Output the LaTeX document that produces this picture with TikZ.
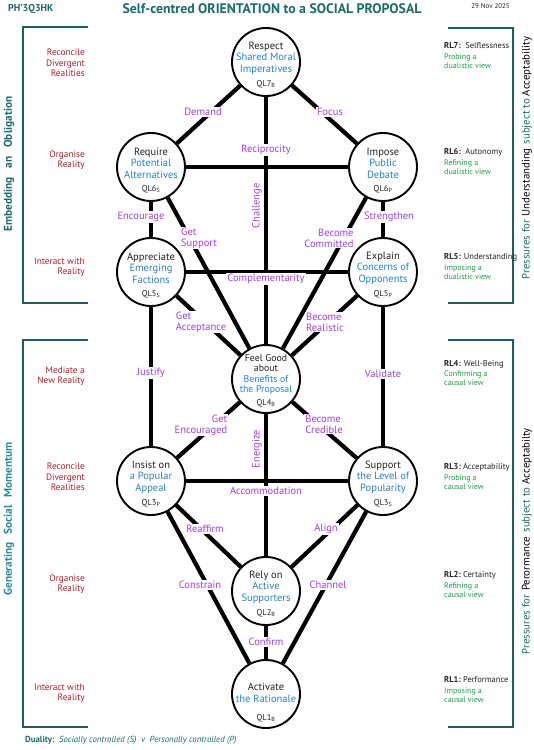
\documentclass[tikz,border=0pt]{standalone}
\usepackage{fontspec}
\setmainfont{PT Sans}
\usetikzlibrary{calc}
\definecolor{tealT}{HTML}{1B6A6C}
\definecolor{tealB}{HTML}{1F5F5B}
\definecolor{tealL}{HTML}{2B8A9A}
\definecolor{qblue}{HTML}{2C80C4}
\definecolor{qpurp}{HTML}{A040DC}
\definecolor{qred}{HTML}{A3202E}
\definecolor{qgreen}{HTML}{1F9A48}
\definecolor{qtext}{HTML}{222222}
\newcommand\bl[1]{\textcolor{qblue}{#1}}
\newcommand\qnode[7]{%
  \node[qc] (#1) at (#2) {};
  \node[qt] (#1t) at ($(#1)+(0,#6)$) {#3\\#4};
  \node[qlab] (#1q) at ($(#1)+(0,#7)$) {#5};
}
\begin{document}
\begin{tikzpicture}[x=1pt,y=-1pt,
 qc/.style={circle,draw,line width=1.9pt,fill=white,minimum size=68pt,inner sep=0pt},
 qt/.style={align=center,inner sep=0pt,text=qtext,font=\fontsize{10.5}{11.5}\selectfont},
 qlab/.style={inner sep=0pt,text=qtext,font=\fontsize{8.5}{9}\selectfont},
 edge/.style={line width=4.2pt},
 lab/.style={text=qpurp,fill=white,inner sep=1pt,font=\fontsize{10.5}{11}\selectfont},
 lvl/.style={text=qred,anchor=east,align=right,inner sep=0pt,font=\fontsize{9.3}{10.6}\selectfont},
 rl/.style={anchor=west,inner sep=0pt,text=qtext,font=\fontsize{8.5}{9}\selectfont},
 rls/.style={anchor=west,align=left,inner sep=0pt,text=qgreen,font=\fontsize{8}{8.8}\selectfont},
 brk/.style={draw=tealB,line width=2pt},
 vtxt/.style={rotate=90,inner sep=0pt,font=\fontsize{10.8}{12}\selectfont},
]
\useasboundingbox (0,0) rectangle (534,750);

% header
\node[inner sep=0pt,anchor=west,text=tealT,font=\bfseries\fontsize{10}{12}\selectfont] (code) at (8,9) {PH'3Q3HK};
\node[inner sep=0pt,text=tealT,font=\bfseries\fontsize{13.8}{15}\selectfont] (title) at (272,9) {Self-centred ORIENTATION to a SOCIAL PROPOSAL};
\node[inner sep=0pt,anchor=east,text=qtext,font=\fontsize{7}{8}\selectfont] (date) at (510,6) {29 Nov 2025};

% brackets
\draw[brk] (88,27) -- (23,27) -- (23,303) -- (88,303);
\draw[brk] (88,340) -- (23,340) -- (23,727) -- (88,727);
\draw[brk] (448,28) -- (513,28) -- (513,303) -- (448,303);
\draw[brk] (448,340) -- (513,340) -- (513,727) -- (448,727);

\node[vtxt,text=tealT,font=\bfseries\fontsize{11.3}{12}\selectfont] (embed) at (9,164) {Embedding\hspace{6pt} an\hspace{6pt} Obligation};
\node[vtxt,text=tealL,font=\bfseries\fontsize{11.3}{12}\selectfont] (gener) at (9,519) {Generating\hspace{5pt} Social\hspace{5pt} Momentum};
\node[vtxt] (press1) at (527,158) {\color{tealT}Pressures for\hspace{4pt}\color{black}Understanding\hspace{4pt}\color{tealT}subject to\hspace{3pt}\color{black}Acceptability};
\node[vtxt] (press2) at (527,541) {\color{tealT}Pressures for\hspace{4pt}\color{black}Perormance\hspace{4pt}\color{tealT}subject to\hspace{3pt}\color{black}Acceptabilty};

% left level labels
\node[lvl] (l7) at (85,63) {Reconcile\\Divergent\\Realities};
\node[lvl] (l6) at (85,160) {Organise\\Reality};
\node[lvl] (l5) at (85,267) {Interact with\\Reality};
\node[lvl] (l4) at (85,376) {Mediate a\\New Reality};
\node[lvl] (l3) at (85,477) {Reconcile\\Divergent\\Realities};
\node[lvl] (l2) at (85,584) {Organise\\Reality};
\node[lvl] (l1) at (85,693) {Interact with\\Reality};

% right level labels
\node[rl] (r7) at (444,46) {\textbf{RL7:}\ \ Selflessness};
\node[rls] (r7s) at (444,61) {Probing a\\dualistic view};
\node[rl] (r6) at (444,152) {\textbf{RL6:}\ \ Autonomy};
\node[rls] (r6s) at (444,167) {Refining a\\dualistic view};
\node[rl] (r5) at (444,257) {\textbf{RL5:} Understanding};
\node[rls] (r5s) at (444,272) {Imposing a\\dualistic view};
\node[rl] (r4) at (444,364) {\textbf{RL4:} Well-Being};
\node[rls] (r4s) at (444,378) {Confirming a\\causal view};
\node[rl] (r3) at (444,467) {\textbf{RL3:}\ Acceptability};
\node[rls] (r3s) at (444,482) {Probing a\\causal view};
\node[rl] (r2) at (444,575) {\textbf{RL2:}\ Certainty};
\node[rls] (r2s) at (444,590) {Refining a\\causal view};
\node[rl] (r1) at (444,680) {\textbf{RL1:}\ Performance};
\node[rls] (r1s) at (444,695) {Imposing a\\causal view};

% circles
\qnode{q7}{266,62}{Respect}{\bl{Shared Moral}\\\bl{Imperatives}}{QL7\textsubscript{B}}{-4}{22}
\qnode{q6s}{151,167}{Require}{\bl{Potential}\\\bl{Alternatives}}{QL6\textsubscript{S}}{-4}{22}
\qnode{q6p}{383,167}{Impose}{\bl{Public}\\\bl{Debate}}{QL6\textsubscript{P}}{-4}{22}
\qnode{q5s}{151,272}{Appreciate}{\bl{Emerging}\\\bl{Factions}}{QL5\textsubscript{S}}{-4}{22}
\qnode{q5p}{383,272}{Explain}{\bl{Concerns of}\\\bl{Opponents}}{QL5\textsubscript{P}}{-4}{22}
\node[qc] (q4) at (266,379) {};
\node[qt,font=\fontsize{9.8}{10.5}\selectfont] (q4t) at (266,374.5) {Feel Good\\about\\\bl{Benefits of}\\\bl{the Proposal}};
\node[qlab] (q4q) at (266,403) {QL4\textsubscript{B}};
\qnode{q3p}{151,481}{Insist on}{\bl{a Popular}\\\bl{Appeal}}{QL3\textsubscript{P}}{-4}{22}
\qnode{q3s}{383,481}{Support}{\bl{the Level of}\\\bl{Popularity}}{QL3\textsubscript{S}}{-4}{22}
\qnode{q2}{266,591}{Rely on}{\bl{Active}\\\bl{Supporters}}{QL2\textsubscript{B}}{-4}{22}
\qnode{q1}{266,694}{Activate}{\bl{the Rationale}}{QL1\textsubscript{B}}{-1}{24}

% edges
\draw[edge] (q7) -- (q6s);
\draw[edge] (q7) -- (q6p);
\draw[edge] (q7) -- (q4);
\draw[edge] (q6s) -- (q6p);
\draw[edge] (q6s) -- (q5s);
\draw[edge] (q6p) -- (q5p);
\draw[edge] (q6s) -- (q4);
\draw[edge] (q6p) -- (q4);
\draw[edge] (q5s) -- (q5p);
\draw[edge] (q5s) -- (q4);
\draw[edge] (q5p) -- (q4);
\draw[edge] (q5s) -- (q3p);
\draw[edge] (q5p) -- (q3s);
\draw[edge] (q4) -- (q3p);
\draw[edge] (q4) -- (q3s);
\draw[edge] (q4) -- (q2);
\draw[edge] (q3p) -- (q3s);
\draw[edge] (q3p) -- (q2);
\draw[edge] (q3s) -- (q2);
\draw[edge] (q3p) -- (q1);
\draw[edge] (q3s) -- (q1);
\draw[edge] (q2) -- (q1);

% edge labels
\node[lab] (eDemand) at (203,112) {Demand};
\node[lab] (eFocus) at (330,112) {Focus};
\node[lab] (eRecip) at (266,150) {Reciprocity};
\node[lab,fill=none,rotate=90] (eChall) at (257,206) {Challenge};
\node[lab] (eEnc) at (141,217) {Encourage};
\node[lab] (eStr) at (389,217) {Strengthen};
\node[lab,align=left] (eGetS) at (199,238) {Get\\Support};
\node[lab,align=right] (eBecC) at (329,238) {Become\\Committed};
\node[lab] (eCompl) at (266,279) {Complementarity};
\node[lab,align=left] (eGetA) at (201,322) {Get\\Acceptance};
\node[lab,align=left] (eBecR) at (325,322) {Become\\Realistic};
\node[lab] (eJust) at (151,373) {Justify};
\node[lab] (eVal) at (383,374) {Validate};
\node[lab,align=right] (eGetE) at (201,425) {Get\\Encouraged};
\node[lab,align=left] (eBecCr) at (324,424) {Become\\Credible};
\node[lab,fill=none,rotate=90] (eEner) at (257,449) {Energize};
\node[lab] (eAccom) at (266,491) {Accommodation};
\node[lab] (eReaff) at (205,529) {Reaffirm};
\node[lab] (eAlign) at (326,529) {Align};
\node[lab] (eConstr) at (200,585) {Constrain};
\node[lab] (eChan) at (328,585) {Channel};
\node[lab] (eConf) at (266,642) {Confirm};

% footer
\node[inner sep=0pt,anchor=west,text=tealT,font=\fontsize{8.8}{10}\selectfont] (duality) at (25,740) {\textbf{Duality:}\ \ \textit{Socially controlled (S)\ \ v\ \ Personally controlled (P)}};
\end{tikzpicture}
\end{document}
